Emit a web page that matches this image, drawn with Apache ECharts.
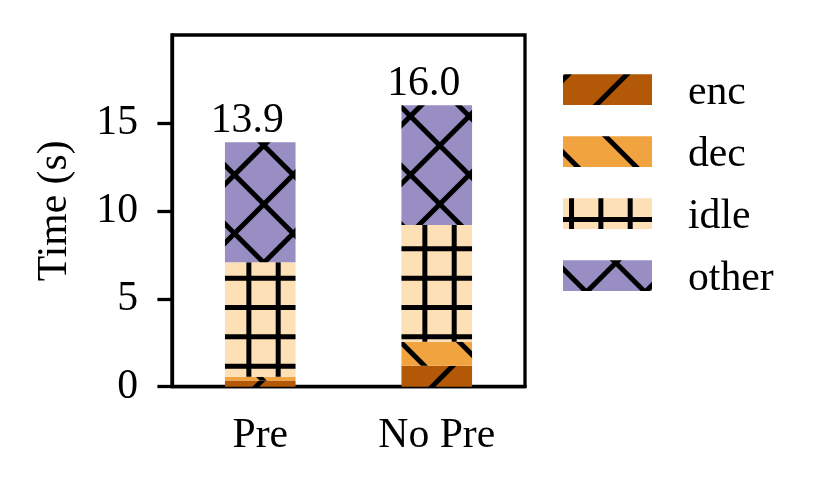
<!DOCTYPE html>
<html><head><meta charset="utf-8">
<script src="https://cdn.jsdelivr.net/npm/echarts@6/dist/echarts.min.js"></script>
<style>html,body{margin:0;padding:0;background:#fff}#c{width:830px;height:496px}</style>
</head><body><div id="c"></div>
<script>
const categories = ['Pre', 'No Pre'];
const enc = [0.35, 1.19];
const dec = [0.22, 1.37];
const idle = [6.50, 6.63];
const other = [6.83, 6.81];
const yTicks = [0, 5, 10, 15];
const seriesNames = ['enc', 'dec', 'idle', 'other'];
const seriesData = [enc, dec, idle, other];
const fillColors = ['#b35806', '#f1a340', '#fee0b6', '#998ec3'];
const totals = categories.map((_, i) => seriesData.reduce((s, a) => s + a[i], 0));

const FONT = 'Liberation Serif';
const FS = 41.7;
const T = 176, P = T / 3, Q = T / 6, LW = 5;

function tile(bg, draw) {
  const c = document.createElement('canvas');
  c.width = T; c.height = T;
  const g = c.getContext('2d');
  g.fillStyle = bg; g.fillRect(0, 0, T, T);
  g.strokeStyle = '#000'; g.lineWidth = LW; g.lineCap = 'butt';
  draw(g);
  return c;
}
function diagDown(g, c) {
  for (let k = -8; k <= 8; k++) {
    const off = c + k * P;
    g.beginPath(); g.moveTo(-20, -20 - off); g.lineTo(T + 20, T + 20 - off); g.stroke();
  }
}
function diagUp(g, c) {
  for (let k = -2; k <= 10; k++) {
    const off = c + k * P;
    g.beginPath(); g.moveTo(-20, off + 20); g.lineTo(T + 20, off - T - 20); g.stroke();
  }
}
function plus(g, c) {
  for (let k = -1; k <= 7; k++) {
    const v = c + k * Q;
    g.beginPath(); g.moveTo(v, -5); g.lineTo(v, T + 5); g.stroke();
    g.beginPath(); g.moveTo(-5, v); g.lineTo(T + 5, v); g.stroke();
  }
}
const tiles = [
  tile(fillColors[0], g => diagUp(g, 56)),
  tile(fillColors[1], g => diagDown(g, 0)),
  tile(fillColors[2], g => plus(g, 14.2)),
  tile(fillColors[3], g => { diagDown(g, 1); diagUp(g, 57.3); })
];

const LEG_X = 563, LEG_Y = 74.3, LEG_W = 89, LEG_H = 30.7, LEG_STEP = 62, LEG_TX = 688;
const legendGraphics = [];
seriesNames.forEach((n, i) => {
  const top = LEG_Y + i * LEG_STEP;
  legendGraphics.push({
    type: 'rect', silent: true,
    shape: { x: LEG_X, y: top, width: LEG_W, height: LEG_H },
    style: { fill: { image: tiles[i], repeat: 'repeat' } }
  });
  legendGraphics.push({
    type: 'text', silent: true, x: LEG_TX, y: top + LEG_H / 2 + 3,
    style: { text: n, fontFamily: FONT, fontSize: FS, fill: '#000', align: 'left', verticalAlign: 'middle' }
  });
});

const chart = echarts.init(document.getElementById('c'), null, { renderer: 'canvas' });
chart.setOption({
  animation: false,
  backgroundColor: '#fff',
  textStyle: { fontFamily: FONT },
  grid: { left: 172, right: 305, top: 35, bottom: 109.3, show: true, borderColor: '#000', borderWidth: 3.3, backgroundColor: 'transparent', containLabel: false },
  graphic: legendGraphics,
  xAxis: {
    type: 'category', data: categories,
    axisLine: { lineStyle: { color: '#000', width: 3.3 } },
    axisTick: { alignWithLabel: true, length: 14.6, lineStyle: { color: '#000', width: 3.3 } },
    axisLabel: { fontFamily: FONT, fontSize: FS, color: '#000', margin: 28 }
  },
  yAxis: {
    type: 'value', min: 0, max: 20, interval: 5,
    name: 'Time (s)', nameLocation: 'middle', nameGap: 96,
    nameTextStyle: { fontFamily: FONT, fontSize: FS, color: '#000' },
    splitLine: { show: false },
    axisLine: { show: true, lineStyle: { color: '#000', width: 3.3 } },
    axisTick: { show: true, length: 14.6, customValues: yTicks, lineStyle: { color: '#000', width: 3.3 } },
    axisLabel: { fontFamily: FONT, fontSize: FS, color: '#000', margin: 34, customValues: yTicks }
  },
  series: seriesNames.map((n, i) => ({
    name: n, type: 'bar', stack: 'total', barWidth: '40%',
    data: seriesData[i],
    itemStyle: { color: { image: tiles[i], repeat: 'repeat' } },
    emphasis: { disabled: true },
    label: i === 3 ? {
      show: true, position: 'top', distance: 0, offset: [-13, 0],
      formatter: p => totals[p.dataIndex].toFixed(1),
      fontFamily: FONT, fontSize: FS, color: '#000'
    } : { show: false }
  }))
});
</script></body></html>
